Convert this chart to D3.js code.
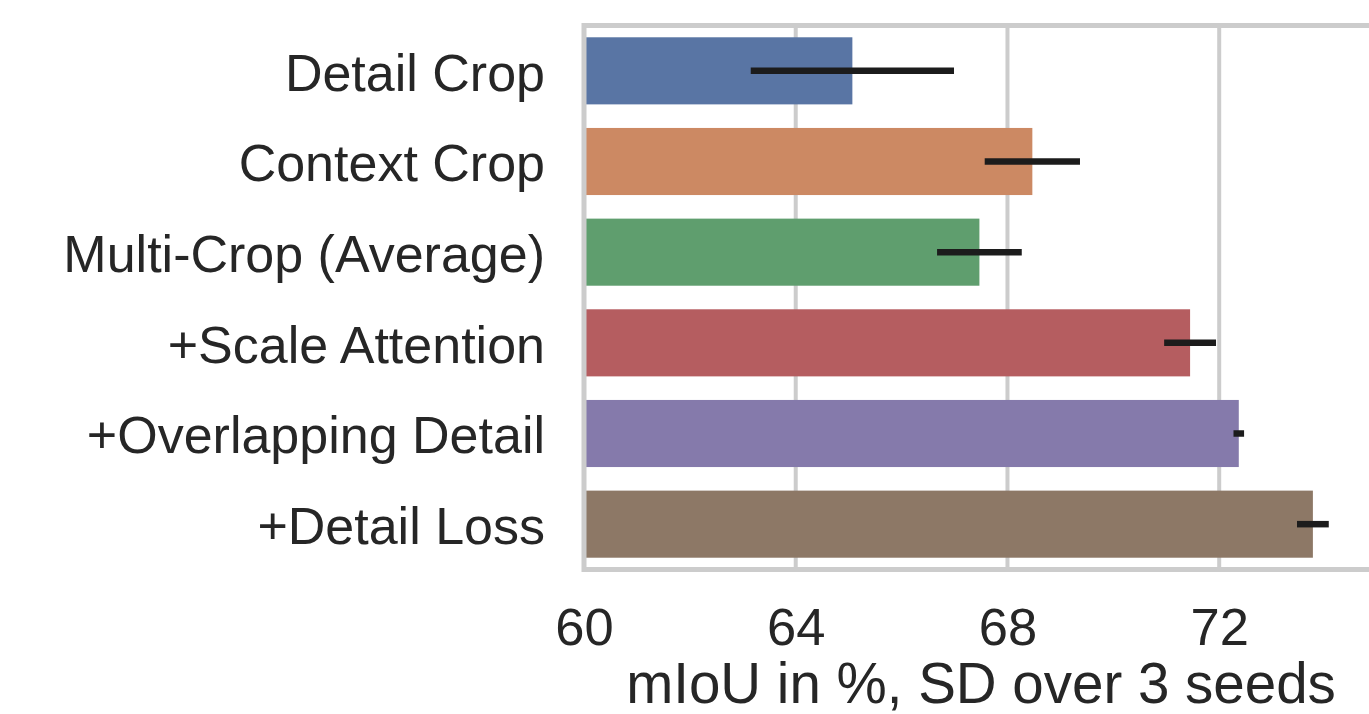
<!DOCTYPE html>
<html>
<head>
<meta charset="utf-8">
<script src="https://cdn.jsdelivr.net/npm/d3@7"></script>
<style>
  body { margin: 0; background: #fff; }
  svg { display: block; }
  text { font-family: "Liberation Sans", Arial, Helvetica, sans-serif; fill: #262626; }
</style>
</head>
<body>
<div id="chart"></div>
<script>
// ablation results, mIoU mean and SD over 3 seeds
const methods = ["Detail Crop", "Context Crop", "Multi-Crop (Average)", "+Scale Attention", "+Overlapping Detail", "+Detail Loss"];
const means = [65.07, 68.47, 67.47, 71.45, 72.37, 73.77];
const sds = [1.92, 0.90, 0.80, 0.49, 0.10, 0.30];
const xTicks = [60, 64, 68, 72];
const colors = ["#5975a4", "#cc8963", "#5f9e6e", "#b55d60", "#857aab", "#8d7866"];

const width = 1369, height = 714;
const plotLeft = 584, plotRight = 1378, plotTop = 25.5, plotBottom = 569.5;

const svg = d3.select("#chart")
    .append("svg")
    .attr("width", width)
    .attr("height", height);

const x = d3.scaleLinear().domain([60, 75]).range([plotLeft, plotRight]);
const y = d3.scaleBand().domain(methods).range([plotTop, plotBottom])
    .paddingInner(0.26).paddingOuter(0.13);

// grid
svg.append("g")
    .selectAll("line")
    .data(xTicks.filter(d => d > 60))
    .join("line")
    .attr("x1", d => x(d)).attr("x2", d => x(d))
    .attr("y1", plotTop).attr("y2", plotBottom)
    .attr("stroke", "#cccccc")
    .attr("stroke-width", 4);

// bars
svg.append("g")
    .selectAll("rect")
    .data(methods)
    .join("rect")
    .attr("x", x(60))
    .attr("y", d => y(d))
    .attr("width", (d, i) => x(means[i]) - x(60))
    .attr("height", y.bandwidth())
    .attr("fill", (d, i) => colors[i]);

// error bars
svg.append("g")
    .selectAll("line")
    .data(methods)
    .join("line")
    .attr("x1", (d, i) => x(means[i] - sds[i]))
    .attr("x2", (d, i) => x(means[i] + sds[i]))
    .attr("y1", d => y(d) + y.bandwidth() / 2)
    .attr("y2", d => y(d) + y.bandwidth() / 2)
    .attr("stroke", "#1c1c1c")
    .attr("stroke-width", 6.5);

// frame
svg.append("rect")
    .attr("x", plotLeft).attr("y", plotTop)
    .attr("width", plotRight - plotLeft).attr("height", plotBottom - plotTop)
    .attr("fill", "none")
    .attr("stroke", "#cccccc")
    .attr("stroke-width", 5);

// axes
const xAxis = svg.append("g")
    .attr("transform", `translate(0,${plotBottom})`)
    .call(d3.axisBottom(x).tickValues(xTicks).tickSize(0).tickPadding(38));
xAxis.select(".domain").remove();
xAxis.selectAll("text")
    .attr("font-size", 52.5)
    .style("font-family", "'Liberation Sans', Arial, sans-serif")
    .attr("fill", "#262626");

const yAxis = svg.append("g")
    .attr("transform", `translate(${plotLeft},0)`)
    .call(d3.axisLeft(y).tickSize(0).tickPadding(39));
yAxis.select(".domain").remove();
yAxis.selectAll("text")
    .attr("font-size", 52)
    .attr("dy", "0.38em")
    .style("font-family", "'Liberation Sans', Arial, sans-serif")
    .attr("fill", "#262626");

svg.append("text")
    .attr("x", (plotLeft + plotRight) / 2)
    .attr("y", 703)
    .attr("text-anchor", "middle")
    .attr("font-size", 56.5)
    .text("mIoU in %, SD over 3 seeds");
</script>
</body>
</html>
